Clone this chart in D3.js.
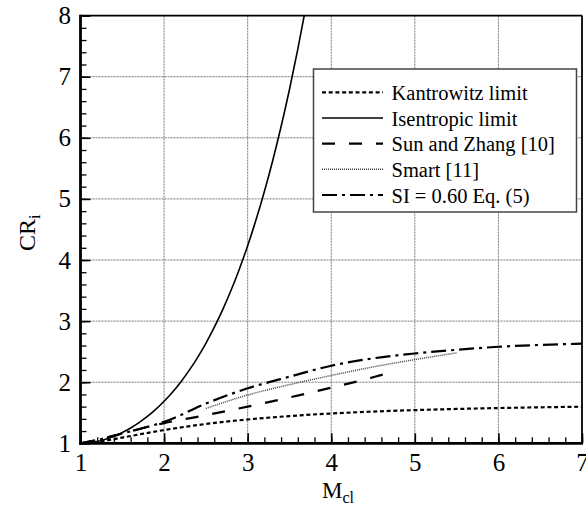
<!DOCTYPE html>
<html><head><meta charset="utf-8">
<script src="https://cdn.jsdelivr.net/npm/d3@7"></script>
<style>
html,body{margin:0;padding:0;background:#fff;}
svg{display:block;}
text{font-family:"Liberation Serif","Times New Roman",serif;fill:#000;}
</style></head>
<body>
<svg id="chart" width="586" height="508"></svg>
<script>
// ---- data ----
const xTicks = [1, 2, 3, 4, 5, 6, 7];
const yTicks = [1, 2, 3, 4, 5, 6, 7, 8];

const isenM  = [1.0, 1.1, 1.2, 1.3, 1.4, 1.5, 1.6, 1.7, 1.8, 1.9, 2.0, 2.1, 2.2, 2.3, 2.4, 2.5, 2.6, 2.7, 2.8, 2.9, 3.0, 3.1, 3.2, 3.3, 3.4, 3.5, 3.6, 3.7];
const isenCR = [1.000, 1.008, 1.030, 1.066, 1.115, 1.176, 1.250, 1.338, 1.439, 1.555, 1.688, 1.837, 2.005, 2.193, 2.403, 2.637, 2.896, 3.183, 3.500, 3.850, 4.235, 4.657, 5.121, 5.629, 6.184, 6.790, 7.450, 8.169];

const kantM  = [1.0, 1.25, 1.5, 1.75, 2.0, 2.5, 3.0, 3.5, 4.0, 4.5, 5.0, 5.5, 6.0, 6.5, 7.0];
const kantCR = [1.000, 1.032, 1.094, 1.157, 1.217, 1.316, 1.390, 1.446, 1.488, 1.519, 1.543, 1.562, 1.577, 1.589, 1.599];

const sunM  = [1.0, 1.25, 1.5, 1.75, 2.0, 2.5, 3.0, 3.5, 4.0, 4.5, 4.68];
const sunCR = [1.00, 1.07, 1.16, 1.25, 1.33, 1.46, 1.60, 1.75, 1.91, 2.08, 2.15];

const smartM  = [2.5, 3.0, 3.5, 4.0, 4.5, 5.0, 5.5];
const smartCR = [1.57, 1.79, 1.96, 2.11, 2.25, 2.37, 2.48];

const siM  = [1.0, 1.25, 1.5, 1.75, 2.0, 2.5, 3.0, 3.5, 4.0, 4.5, 5.0, 5.5, 6.0, 6.5, 7.0];
const siCR = [1.00, 1.07, 1.16, 1.25, 1.35, 1.65, 1.90, 2.09, 2.27, 2.39, 2.47, 2.53, 2.58, 2.61, 2.63];

const legendLabels = ["Kantrowitz limit", "Isentropic limit", "Sun and Zhang [10]", "Smart [11]", "SI = 0.60 Eq. (5)"];

// ---- layout ----
const svg = d3.select("#chart");
const L = 80.5, R = 582, T = 15.6, B = 443.3;
const x = d3.scaleLinear().domain([1, 7]).range([L, R]);
const y = d3.scaleLinear().domain([1, 8]).range([B, T]);

const styles = [
  {w: 2.2, dash: "4,2.7", color: "#000"},
  {w: 1.6, dash: null, color: "#000"},
  {w: 2.2, dash: "13,14", color: "#000"},
  {w: 1.5, dash: "1,1", color: "#444"},
  {w: 2.2, dash: "15,5,3,5", color: "#000"}
];
const series = [
  {m: kantM, v: kantCR},
  {m: isenM, v: isenCR},
  {m: sunM, v: sunCR},
  {m: smartM, v: smartCR},
  {m: siM, v: siCR}
];

svg.append("defs").append("clipPath").attr("id", "clip")
  .append("rect").attr("x", L).attr("y", T).attr("width", R - L).attr("height", B - T);

// grid
const grid = svg.append("g");
grid.selectAll("line.vx").data(xTicks.slice(1, -1)).join("line")
  .attr("x1", d => x(d)).attr("x2", d => x(d)).attr("y1", T).attr("y2", B)
  .attr("stroke", "#777").attr("stroke-width", 1).attr("stroke-dasharray", "2,1");
grid.selectAll("line.hy").data(yTicks.slice(1, -1)).join("line")
  .attr("y1", d => y(d)).attr("y2", d => y(d)).attr("x1", L).attr("x2", R)
  .attr("stroke", "#777").attr("stroke-width", 1).attr("stroke-dasharray", "2,1");

// curves
const plot = svg.append("g").attr("clip-path", "url(#clip)");
series.forEach((s, i) => {
  const pts = s.m.map((m, k) => [m, s.v[k]]);
  const line = d3.line().x(d => x(d[0])).y(d => y(d[1])).curve(d3.curveMonotoneX);
  plot.append("path").attr("d", line(pts)).attr("fill", "none")
    .attr("stroke", styles[i].color).attr("stroke-width", styles[i].w)
    .attr("stroke-dasharray", styles[i].dash);
});

// axes: minor ticks
const xMinor = d3.range(1, 7.001, 0.2).map(v => +v.toFixed(1));
const yMinor = d3.range(1, 8.001, 0.2).map(v => +v.toFixed(1));
const gxMinor = svg.append("g").attr("transform", `translate(0,${B})`)
  .call(d3.axisBottom(x).tickValues(xMinor).tickSize(-6).tickFormat(""));
const gyMinor = svg.append("g").attr("transform", `translate(${L},0)`)
  .call(d3.axisLeft(y).tickValues(yMinor).tickSize(-6).tickFormat(""));
[gxMinor, gyMinor].forEach(g => { g.select(".domain").remove(); g.selectAll("line").attr("stroke", "#000").attr("stroke-width", 1.3); });

const gx = svg.append("g").attr("transform", `translate(0,${B})`)
  .call(d3.axisBottom(x).tickValues(xTicks).tickSize(-10).tickPadding(10).tickFormat(d3.format("d")));
const gy = svg.append("g").attr("transform", `translate(${L},0)`)
  .call(d3.axisLeft(y).tickValues(yTicks).tickSize(-10).tickPadding(9.5).tickFormat(d3.format("d")));
[gx, gy].forEach(g => {
  g.select(".domain").remove();
  g.selectAll("line").attr("stroke", "#000").attr("stroke-width", 1.6);
  g.selectAll("text").attr("font-family", '"Liberation Serif","Times New Roman",serif').attr("font-size", 25).attr("fill", "#000");
});

// frame
svg.append("line").attr("x1", L).attr("x2", R).attr("y1", T).attr("y2", T).attr("stroke", "#000").attr("stroke-width", 1.8);
svg.append("line").attr("x1", R).attr("x2", R).attr("y1", T).attr("y2", B).attr("stroke", "#000").attr("stroke-width", 1.8);
svg.append("line").attr("x1", L).attr("x2", L).attr("y1", T - 0.9).attr("y2", B + 1.4).attr("stroke", "#000").attr("stroke-width", 2.8);
svg.append("line").attr("x1", L - 1.4).attr("x2", R + 0.9).attr("y1", B).attr("y2", B).attr("stroke", "#000").attr("stroke-width", 2.8);

// axis titles
const xt = svg.append("text").attr("x", 322).attr("y", 497.5).attr("font-size", 23);
xt.append("tspan").text("M");
xt.append("tspan").attr("font-size", 16).attr("dy", 5).text("cl");

const yt = svg.append("text").attr("transform", "translate(35,251) rotate(-90)").attr("font-size", 24);
yt.append("tspan").text("CR");
yt.append("tspan").attr("font-size", 16).attr("dy", 5).text("i");

// legend
const lg = svg.append("g");
lg.append("rect").attr("x", 313.5).attr("y", 69).attr("width", 263).attr("height", 143)
  .attr("fill", "#fff").attr("stroke", "#444").attr("stroke-width", 1.5);
legendLabels.forEach((lab, i) => {
  const by = 100 + i * 25.65;
  lg.append("line").attr("x1", 322).attr("x2", 383).attr("y1", by - 7.6).attr("y2", by - 7.6)
    .attr("stroke", styles[i].color).attr("stroke-width", styles[i].w).attr("stroke-dasharray", styles[i].dash);
  lg.append("text").attr("x", 391.5).attr("y", by).attr("font-size", 20.5).text(lab);
});
</script>
</body></html>
